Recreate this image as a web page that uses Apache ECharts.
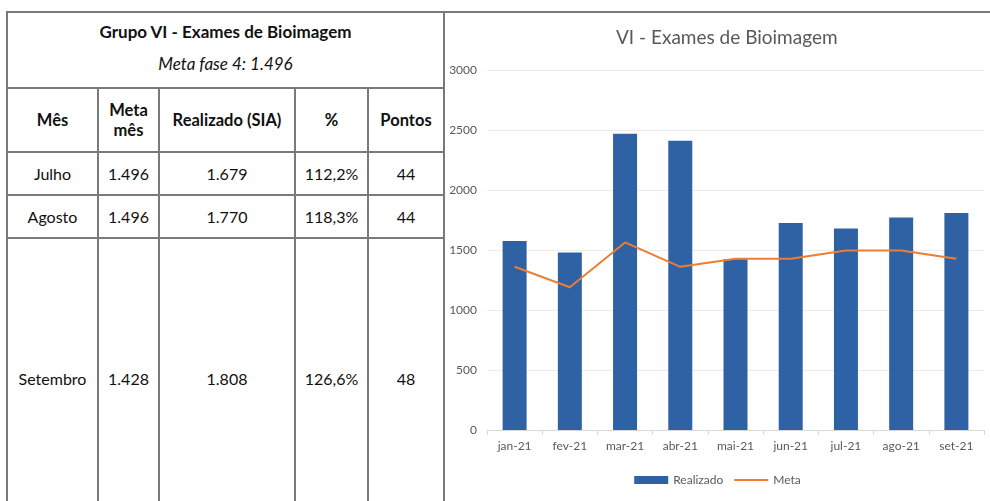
<!DOCTYPE html>
<html>
<head>
<meta charset="utf-8">
<script src="https://cdn.jsdelivr.net/npm/echarts@6/dist/echarts.min.js"></script>
<style>
  body { margin: 0; background: #fff; font-family: Lato, "Open Sans", sans-serif; }
  #page { position: relative; width: 990px; height: 501px; overflow: hidden; background: #fff; }
  #topLine { position: absolute; left: 443px; top: 11px; width: 547px; height: 2px; background: #7a7a7a; }
  table { position: absolute; left: 6px; top: 11px; border-collapse: collapse; color: #111; font-size: 16px; }
  td { border: 2px solid #7a7a7a; text-align: center; vertical-align: middle; padding: 0; }
  .hd td { font-weight: bold; font-size: 16.5px; }
  #chart { position: absolute; left: 445px; top: 14px; width: 545px; height: 487px; }
</style>
</head>
<body>
<div id="page">
  <div id="topLine"></div>
  <table id="tbl"></table>
  <div id="chart"></div>
</div>
<script>
// dados da tabela
var tituloTabela = 'Grupo VI - Exames de Bioimagem';
var metaFase = 'Meta fase 4: 1.496';
var colunas = ['Mês', 'Meta<br>mês', 'Realizado (SIA)', '%', 'Pontos'];
var meses = ['Julho', 'Agosto', 'Setembro'];
var metaMes = ['1.496', '1.496', '1.428'];
var realizadoSia = ['1.679', '1.770', '1.808'];
var percentual = ['112,2%', '118,3%', '126,6%'];
var pontos = ['44', '44', '48'];

// dados do grafico
var categorias = ['jan-21', 'fev-21', 'mar-21', 'abr-21', 'mai-21', 'jun-21', 'jul-21', 'ago-21', 'set-21'];
var realizado = [1575, 1480, 2468, 2410, 1422, 1725, 1679, 1770, 1808];
var meta = [1360, 1190, 1563, 1360, 1428, 1428, 1496, 1496, 1428];

// monta tabela
var larguras = [91, 61, 136, 73, 76];
var alturasLinha = [43, 43, 280];
var html = '<tr><td colspan="5" style="height:74px">' +
    '<div style="font-weight:bold;font-size:17px;margin-bottom:11px;margin-top:-6px">' + tituloTabela + '</div>' +
    '<div style="font-style:italic;font-size:17px">' + metaFase + '</div></td></tr>';
html += '<tr class="hd">';
for (var i = 0; i < colunas.length; i++) {
    html += '<td style="width:' + (larguras[i] - 2) + 'px;height:62px;line-height:20px">' + colunas[i] + '</td>';
}
html += '</tr>';
for (var j = 0; j < meses.length; j++) {
    html += '<tr style="height:' + alturasLinha[j] + 'px">' +
        '<td>' + meses[j] + '</td><td>' + metaMes[j] + '</td><td>' + realizadoSia[j] + '</td>' +
        '<td>' + percentual[j] + '</td><td>' + pontos[j] + '</td></tr>';
}
document.getElementById('tbl').innerHTML = html;

var myChart = echarts.init(document.getElementById('chart'));
var cinza = '#595959';
var option = {
    animation: false,
    textStyle: { fontFamily: 'Lato' },
    title: {
        text: 'VI - Exames de Bioimagem',
        left: 166,
        top: 9,
        textStyle: { color: cinza, fontSize: 19, fontWeight: 'normal' }
    },
    legend: {
        bottom: 10,
        left: 'center',
        itemGap: 10,
        textStyle: { color: cinza, fontSize: 12 },
        data: [
            { name: 'Realizado', icon: 'rect', itemStyle: { color: '#2F62A4' } },
            { name: 'Meta', itemStyle: { opacity: 0 } }
        ],
        itemWidth: 34,
        itemHeight: 8
    },
    grid: { left: 42, right: 6, top: 56, bottom: 71 },
    xAxis: {
        type: 'category',
        data: categorias,
        axisLine: { lineStyle: { color: '#d9d9d9' } },
        axisTick: { show: true, length: 5, lineStyle: { color: '#d9d9d9' } },
        axisLabel: { color: cinza, fontSize: 12, margin: 10 }
    },
    yAxis: {
        type: 'value',
        min: 0,
        max: 3000,
        interval: 500,
        axisLine: { show: false },
        axisTick: { show: false },
        axisLabel: { color: cinza, fontSize: 12, margin: 10, formatter: function (v) { return String(v); } },
        splitLine: { lineStyle: { color: '#ececec' } }
    },
    series: [
        {
            name: 'Realizado',
            type: 'bar',
            data: realizado,
            barWidth: 24,
            itemStyle: { color: '#2F62A4' }
        },
        {
            name: 'Meta',
            type: 'line',
            data: meta,
            symbol: 'none',
            lineStyle: { color: '#ED7D31', width: 2 },
            itemStyle: { color: '#ED7D31' }
        }
    ]
};
myChart.setOption(option);
</script>
</body>
</html>
